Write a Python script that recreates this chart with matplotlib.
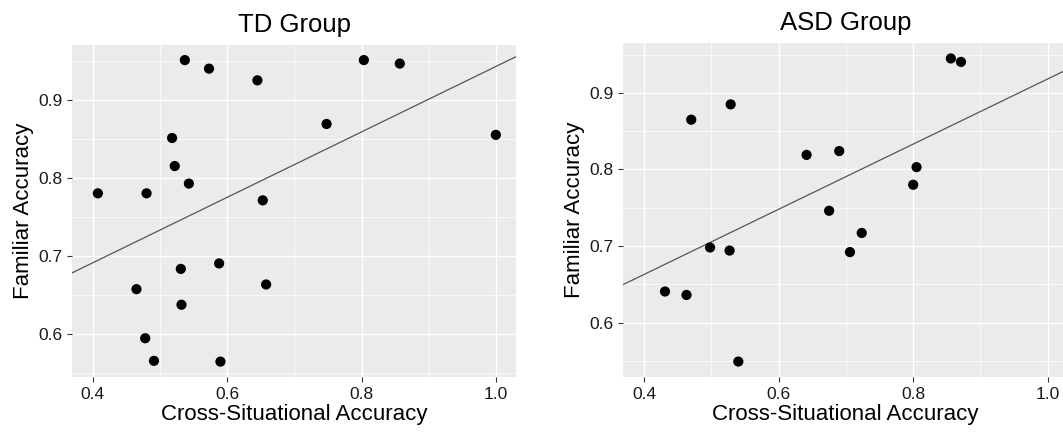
import numpy as np
import matplotlib
matplotlib.use('Agg')
import matplotlib.pyplot as plt

# ---- data ----
td_x = [0.4075, 0.480, 0.537, 0.573, 0.645, 0.8035, 0.857, 0.748, 1.000, 0.518, 0.522,
        0.543, 0.653, 0.588, 0.531, 0.658, 0.465, 0.532, 0.478, 0.491, 0.590]
td_y = [0.780, 0.780, 0.951, 0.940, 0.925, 0.951, 0.9465, 0.869, 0.855, 0.851, 0.815,
        0.7925, 0.771, 0.690, 0.683, 0.663, 0.657, 0.637, 0.594, 0.565, 0.564]

asd_x = [0.431, 0.463, 0.470, 0.5286, 0.498, 0.527, 0.540, 0.6415, 0.690, 0.675,
         0.7235, 0.706, 0.800, 0.805, 0.856, 0.871]
asd_y = [0.6405, 0.636, 0.865, 0.885, 0.698, 0.694, 0.549, 0.819, 0.824, 0.746,
         0.717, 0.692, 0.780, 0.803, 0.945, 0.9405]

titles = ["TD Group", "ASD Group"]
x_label = "Cross-Situational Accuracy"
y_label = "Familiar Accuracy"
x_ticks = [0.4, 0.6, 0.8, 1.0]
x_tick_labels = ["0.4", "0.6", "0.8", "1.0"]
y_ticks = [0.6, 0.7, 0.8, 0.9]
y_tick_labels = ["0.6", "0.7", "0.8", "0.9"]
x_minor = [0.5, 0.7, 0.9]
y_minor = [0.55, 0.65, 0.75, 0.85, 0.95]

plt.rcParams['font.family'] = ['Liberation Sans', 'DejaVu Sans']

W, H = 1063, 433
fig = plt.figure(figsize=(W / 100, H / 100), dpi=100)
ax1 = fig.add_axes([72 / W, (H - 376.7) / H, 444 / W, 331.7 / H])
ax2 = fig.add_axes([623.3 / W, (H - 376.7) / H, 444.6 / W, 333.4 / H])

panel_bg = '#EBEBEB'

for ax, xs, ys, title in [(ax1, td_x, td_y, titles[0]), (ax2, asd_x, asd_y, titles[1])]:
    xs = np.asarray(xs)
    ys = np.asarray(ys)
    ax.set_facecolor(panel_bg)
    for s in ax.spines.values():
        s.set_visible(False)
    ax.set_xlim(0.369, 1.030)
    yr = ys.max() - ys.min()
    ax.set_ylim(ys.min() - 0.05 * yr, ys.max() + 0.05 * yr)

    ax.set_xticks(x_ticks)
    ax.set_xticklabels(x_tick_labels)
    ax.set_yticks(y_ticks)
    ax.set_yticklabels(y_tick_labels)
    ax.set_xticks(x_minor, minor=True)
    ax.set_yticks(y_minor, minor=True)
    ax.grid(which='major', color='white', linewidth=1.0)
    ax.grid(which='minor', color='white', linewidth=0.5)
    ax.set_axisbelow(True)
    ax.tick_params(which='major', length=3.6, width=0.8, color='#333333',
                   labelsize=12.5, labelcolor='#1a1a1a', pad=3.5)
    ax.tick_params(which='minor', length=0)

    slope, intercept = np.polyfit(xs, ys, 1)
    ax.axline((0.0, intercept), slope=slope, color='#555555', linewidth=0.9, zorder=2)
    ax.scatter(xs, ys, s=54, color='black', edgecolors='none', zorder=3)

    ax.set_title(title, fontsize=18.5, pad=9.5)
    ax.set_xlabel(x_label, fontsize=16, labelpad=2)
    ax.set_ylabel(y_label, fontsize=16, labelpad=3)

fig.savefig('out.png', dpi=100)
